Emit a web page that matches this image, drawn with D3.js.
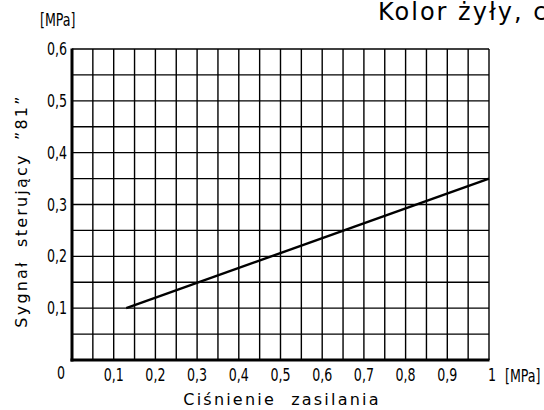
<!DOCTYPE html>
<html>
<head>
<meta charset="utf-8">
<script src="https://cdn.jsdelivr.net/npm/d3@7"></script>
<style>
body { margin: 0; background: #fff; }
text { fill: #000; }
</style>
</head>
<body>
<script>
// data
var xTicks = [0.1, 0.2, 0.3, 0.4, 0.5, 0.6, 0.7, 0.8, 0.9, 1];
var yTicks = [0.1, 0.2, 0.3, 0.4, 0.5, 0.6];
var supply = [0.13, 1];      // Ciśnienie zasilania [MPa]
var signal = [0.1, 0.35];    // Sygnał sterujący "81" [MPa]

var width = 544, height = 410;
var margin = {left: 72, top: 49, right: 55, bottom: 50};

var svg = d3.select("body").append("svg")
    .attr("width", width)
    .attr("height", height);

var x = d3.scaleLinear().domain([0, 1]).range([margin.left, width - margin.right]);
var y = d3.scaleLinear().domain([0, 0.6]).range([height - margin.bottom, margin.top]);

var fmt = function(d) { return String(d).replace(".", ","); };

// grid every 0.05
var g = svg.append("g");
g.selectAll(".vgrid")
    .data(d3.range(1, 21).map(function(i) { return i * 0.05; }))
    .enter().append("line")
    .attr("x1", function(d) { return x(d); })
    .attr("x2", function(d) { return x(d); })
    .attr("y1", y(0)).attr("y2", y(0.6))
    .attr("stroke", "#000").attr("stroke-width", 1.4);

g.selectAll(".hgrid")
    .data(d3.range(1, 13).map(function(i) { return i * 0.05; }))
    .enter().append("line")
    .attr("y1", function(d) { return y(d); })
    .attr("y2", function(d) { return y(d); })
    .attr("x1", x(0)).attr("x2", x(1))
    .attr("stroke", "#000").attr("stroke-width", 1.4);

// thick axes
svg.append("line").attr("x1", x(0)).attr("x2", x(0)).attr("y1", y(0) + 1.5).attr("y2", y(0.6) - 0.5)
    .attr("stroke", "#000").attr("stroke-width", 3);
svg.append("line").attr("x1", x(0) - 1.5).attr("x2", x(1) + 0.5).attr("y1", y(0)).attr("y2", y(0))
    .attr("stroke", "#000").attr("stroke-width", 3);

// characteristic line
svg.append("path")
    .datum(d3.zip(supply, signal))
    .attr("fill", "none")
    .attr("stroke", "#000")
    .attr("stroke-width", 2.4)
    .attr("d", d3.line().x(function(d) { return x(d[0]); }).y(function(d) { return y(d[1]); }));

// narrow CAD-like labels: condensed font squeezed horizontally
var tickFont = "'DejaVu Sans Condensed', 'Liberation Sans Narrow', sans-serif";
function cadText(sel, px, py, anchor, size) {
    return sel.append("text")
        .attr("transform", "translate(" + px + "," + py + ") scale(0.78,1)")
        .attr("text-anchor", anchor)
        .style("font-family", tickFont)
        .style("font-size", size + "px");
}

xTicks.forEach(function(d) {
    cadText(svg, x(d) + (d === 1 ? 3 : 0), y(0) + 21, "middle", 18).text(fmt(d));
});

yTicks.forEach(function(d) {
    cadText(svg, x(0) - 5, y(d) + 6, "end", 18).text(fmt(d));
});

cadText(svg, x(0) - 11, y(0) + 19, "middle", 18).text("0");

// units
cadText(svg, 40, 26, "start", 18).text("[MPa]");
cadText(svg, 505, y(0) + 22, "start", 18).text("[MPa]");

// axis titles
svg.append("text")
    .attr("x", 282).attr("y", 405)
    .attr("text-anchor", "middle")
    .style("font-family", "'DejaVu Sans', sans-serif")
    .style("font-size", "16px")
    .style("letter-spacing", "2.2px")
    .style("word-spacing", "8px")
    .text("Ciśnienie zasilania");

svg.append("text")
    .attr("transform", "translate(27,211) rotate(-90)")
    .attr("text-anchor", "middle")
    .style("font-family", "'DejaVu Sans', sans-serif")
    .style("font-size", "16px")
    .style("letter-spacing", "2.2px")
    .style("word-spacing", "6px")
    .text("Sygnał sterujący \u201d81\u201d");

// title (cut off at the right edge, as in the source)
svg.append("text")
    .attr("x", 378).attr("y", 20)
    .style("font-family", "'DejaVu Sans', sans-serif")
    .style("font-size", "24px")
    .style("letter-spacing", "2px")
    .text("Kolor żyły, c");
</script>
</body>
</html>
